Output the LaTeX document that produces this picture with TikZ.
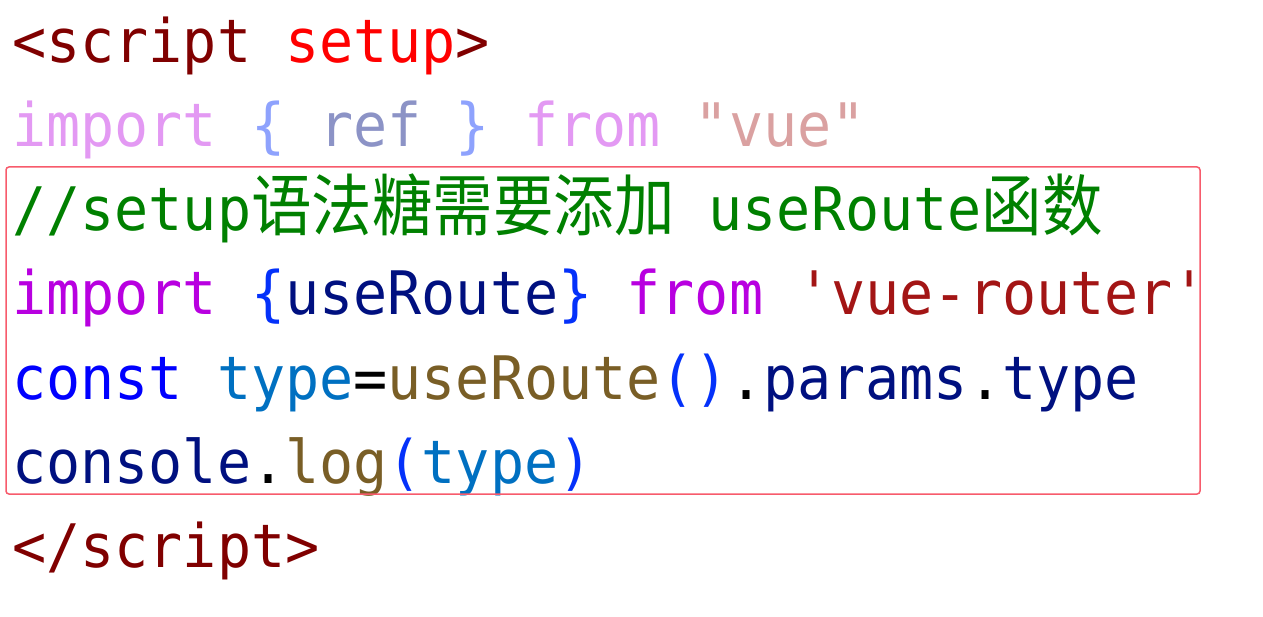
\documentclass[tikz,border=0pt]{standalone}
\usepackage{fontspec}
\newfontfamily\codefont[FakeStretch=0.945]{DejaVu Sans Mono}
\newfontfamily\cjk[Scale=1.12,FakeStretch=0.9]{Noto Sans CJK SC}
\definecolor{tagc}{HTML}{800000}
\definecolor{attrc}{HTML}{FF0000}
\definecolor{kwc}{HTML}{B800E0}
\definecolor{brc}{HTML}{0431FA}
\definecolor{varc}{HTML}{001080}
\definecolor{strc}{HTML}{A31515}
\definecolor{cmtc}{HTML}{008000}
\definecolor{declc}{HTML}{0000FF}
\definecolor{cvarc}{HTML}{0070C1}
\definecolor{fnc}{HTML}{795E26}
\definecolor{boxc}{HTML}{F75B6C}
\newcommand{\tc}[2]{\textcolor{#1}{#2}}
\begin{document}
\begin{tikzpicture}[x=1pt,y=-1pt,
  codeline/.style={anchor=base west, inner sep=0pt, font=\fontsize{60}{72}\codefont}]
\useasboundingbox (0,0) rectangle (1263,617);
% lines of code, one node each
\node[codeline] (line1) at (12,63) {\tc{tagc}{<script} \tc{attrc}{setup}\tc{tagc}{>}};
\node[codeline] (line2) at (12,147) {\tc{kwc!40!white}{import} \tc{brc!45!white}{\{} \tc{varc!45!white}{ref} \tc{brc!45!white}{\}} \tc{kwc!40!white}{from} \tc{strc!40!white}{"vue"}};
\node[codeline] (line3) at (12,231) {\tc{cmtc}{//setup{\cjk 语法糖需要添加} useRoute{\cjk 函数}}};
\node[codeline] (line4) at (12,315) {\tc{kwc}{import} \tc{brc}{\{}\tc{varc}{useRoute}\tc{brc}{\}} \tc{kwc}{from} \tc{strc}{'vue-router'}};
\node[codeline] (line5) at (12,399) {\tc{declc}{const} \tc{cvarc}{type}=\tc{fnc}{useRoute}\tc{brc}{()}.\tc{varc}{params}.\tc{varc}{type}};
\node[codeline] (line6) at (12,483) {\tc{varc}{console}.\tc{fnc}{log}\tc{brc}{(}\tc{cvarc}{type}\tc{brc}{)}};
\node[codeline] (line7) at (12,567) {\tc{tagc}{</script>}};
% highlight box
\draw[boxc, line width=1.5pt, rounded corners=3pt] (6,167) rectangle (1200,494);
\end{tikzpicture}
\end{document}
